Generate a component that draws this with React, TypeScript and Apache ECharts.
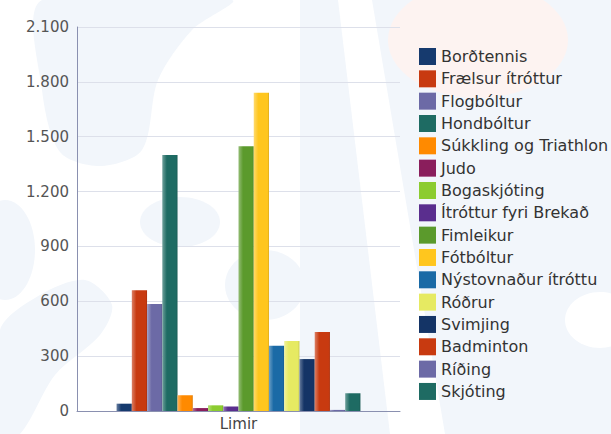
import React, { useEffect, useRef } from "react";
import * as echarts from "echarts";

const categories = ["Limir"];
const seriesNames = [
  "Borðtennis",
  "Frælsur ítróttur",
  "Flogbóltur",
  "Hondbóltur",
  "Súkkling og Triathlon",
  "Judo",
  "Bogaskjóting",
  "Ítróttur fyri Brekað",
  "Fimleikur",
  "Fótbóltur",
  "Nýstovnaður ítróttu",
  "Róðrur",
  "Svimjing",
  "Badminton",
  "Ríðing",
  "Skjóting",
];
const seriesValues = [40, 660, 585, 1400, 86, 16, 31, 24, 1448, 1740, 357, 383, 284, 432, 6, 97];
const seriesColors = [
  "#163a6e", "#c83a10", "#6c6aa6", "#1e6b63", "#ff8a00", "#8a1e5c", "#8ccc30", "#5a2e8e",
  "#5b9a2c", "#ffc61e", "#1a6aa6", "#e6ea62", "#143466", "#c83a10", "#6c6aa6", "#1e6b63",
];
const yTicks = { min: 0, max: 2100, interval: 300 };

function shade(hex: string, amt: number) {
  const n = parseInt(hex.slice(1), 16);
  let r = (n >> 16) & 255, g = (n >> 8) & 255, b = n & 255;
  const f = (c: number) => Math.max(0, Math.min(255, Math.round(amt >= 0 ? c + (255 - c) * amt : c * (1 + amt))));
  r = f(r); g = f(g); b = f(b);
  return "#" + ((1 << 24) + (r << 16) + (g << 8) + b).toString(16).slice(1);
}

function fmt(v: number) {
  return String(v).replace(/\B(?=(\d{3})+(?!\d))/g, ".");
}

const PALE = "#f2f6fb";

export default function App() {
  const ref = useRef<HTMLDivElement>(null);
  useEffect(() => {
    document.body.style.margin = "0";
    const chart = echarts.init(ref.current!, null, { renderer: "svg" });
    const font = "DejaVu Sans";
    chart.setOption({
      animation: false,
      backgroundColor: "#ffffff",
      graphic: [
        { type: "polygon", z: -10, shape: { points: [[42, 0], [232, 0], [192, 30], [158, 80], [142, 150], [100, 166], [60, 152], [42, 90]], smooth: 0.3 }, style: { fill: PALE } },
        { type: "ellipse", z: -10, shape: { cx: 5, cy: 250, rx: 30, ry: 50 }, style: { fill: PALE } },
        { type: "polygon", z: -10, shape: { points: [[0, 330], [40, 295], [85, 280], [112, 305], [100, 335], [55, 375], [20, 434], [0, 434]], smooth: 0.3 }, style: { fill: PALE } },
        { type: "ellipse", z: -10, shape: { cx: 180, cy: 222, rx: 40, ry: 25 }, style: { fill: PALE } },
        { type: "ellipse", z: -10, shape: { cx: 265, cy: 285, rx: 40, ry: 35 }, style: { fill: PALE } },
        { type: "polygon", z: -10, shape: { points: [[372, 0], [611, 0], [611, 434], [445, 434]] }, style: { fill: PALE } },
        { type: "polygon", z: -10, shape: { points: [[300, 0], [338, 0], [390, 434], [300, 434]] }, style: { fill: PALE } },
        { type: "ellipse", z: -9, shape: { cx: 600, cy: 320, rx: 35, ry: 28 }, style: { fill: "#ffffff" } },
        { type: "ellipse", z: -9, shape: { cx: 478, cy: 40, rx: 90, ry: 58 }, style: { fill: "#fdf3f1" } },
      ],
      grid: { left: 77, right: 211, top: 27, bottom: 23, containLabel: false },
      legend: {
        orient: "vertical",
        left: 419,
        top: 48,
        padding: 0,
        itemWidth: 17,
        itemHeight: 17,
        itemGap: 5.33,
        icon: "rect",
        textStyle: { fontFamily: font, fontSize: 16, color: "#333", padding: [0, 0, 0, 0] },
        data: seriesNames.map((n, i) => ({ name: n, itemStyle: { color: seriesColors[i] } })),
      },
      xAxis: {
        type: "category",
        data: categories,
        axisLine: { lineStyle: { color: "#8a90b0", width: 1 } },
        axisTick: { show: false },
        axisLabel: { fontFamily: font, fontSize: 15, color: "#444", margin: 5 },
      },
      yAxis: {
        type: "value",
        min: yTicks.min,
        max: yTicks.max,
        interval: yTicks.interval,
        axisLine: { show: true, lineStyle: { color: "#8a90b0", width: 1 } },
        axisTick: { show: false },
        splitLine: { lineStyle: { color: "#dde0ea", width: 1 } },
        axisLabel: { fontFamily: font, fontSize: 15, color: "#555", margin: 8, formatter: (v: number) => fmt(v) },
      },
      series: seriesNames.map((name, i) => ({
        name,
        type: "bar",
        data: [seriesValues[i]],
        barGap: "0%",
        barCategoryGap: "24.5%",
        itemStyle: {
          color: new echarts.graphic.LinearGradient(0, 0, 1, 0, [
            { offset: 0, color: shade(seriesColors[i], 0.35) },
            { offset: 0.3, color: seriesColors[i] },
            { offset: 0.9, color: seriesColors[i] },
            { offset: 1, color: shade(seriesColors[i], -0.15) },
          ]),
        },
      })),
    });
    return () => chart.dispose();
  }, []);
  return <div ref={ref} style={{ width: 611, height: 434 }} />;
}
